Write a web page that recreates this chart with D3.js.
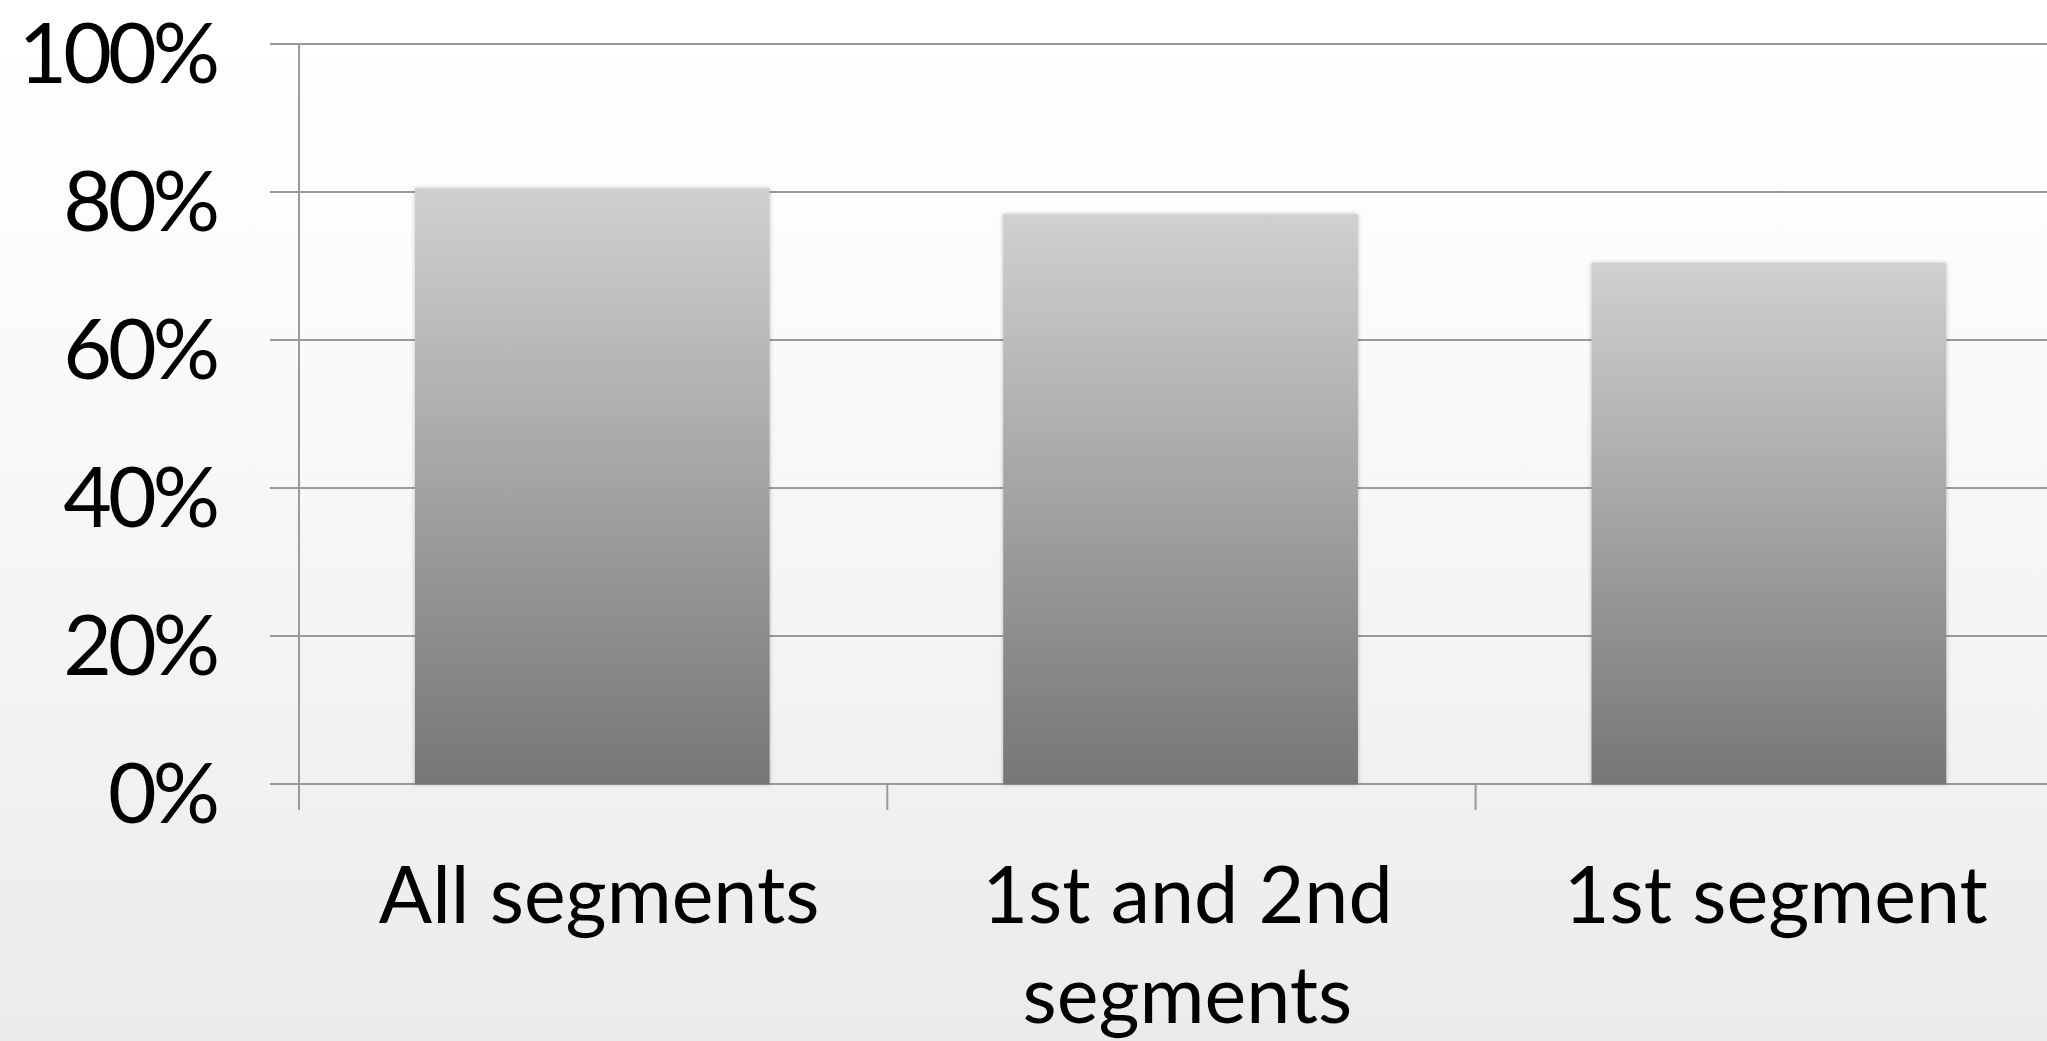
<!DOCTYPE html>
<html>
<head>
<meta charset="utf-8">
<title>Segments chart</title>
<script src="https://d3js.org/d3.v7.min.js"></script>
<style>
html, body { margin: 0; padding: 0; overflow: hidden; }
text { font-family: Lato, "Open Sans", sans-serif; fill: #000; }
</style>
</head>
<body>
<script>
// data
var categories = ["All segments", "1st and 2nd segments", "1st segment"];
var labelLines = [["All segments"], ["1st and 2nd", "segments"], ["1st segment"]];
var values = [0.805, 0.770, 0.704];
var yTicks = [0, 0.2, 0.4, 0.6, 0.8, 1];

var w = 2047, h = 1041;

var svg = d3.select("body").append("svg")
    .attr("width", w)
    .attr("height", h);

var defs = svg.append("defs");

var bg = defs.append("linearGradient").attr("id", "bg")
    .attr("x1", 0).attr("y1", 0).attr("x2", 0).attr("y2", 1);
bg.append("stop").attr("offset", "0%").attr("stop-color", "#ffffff");
bg.append("stop").attr("offset", "30%").attr("stop-color", "#fbfbfb");
bg.append("stop").attr("offset", "100%").attr("stop-color", "#ebebee");

var barGrad = defs.append("linearGradient").attr("id", "bar")
    .attr("x1", 0).attr("y1", 0).attr("x2", 0).attr("y2", 1);
barGrad.append("stop").attr("offset", "0%").attr("stop-color", "#d0d0d0");
barGrad.append("stop").attr("offset", "100%").attr("stop-color", "#767676");

var shadow = defs.append("filter").attr("id", "shadow")
    .attr("x", "-5%").attr("y", "-5%").attr("width", "110%").attr("height", "110%");
shadow.append("feDropShadow")
    .attr("dx", 0).attr("dy", 0).attr("stdDeviation", 2)
    .attr("flood-color", "#000").attr("flood-opacity", 0.25);

svg.append("rect").attr("width", w).attr("height", h).attr("fill", "url(#bg)");

var x = d3.scaleBand()
    .domain(categories)
    .range([299, 299 + 3 * 588.3])
    .paddingInner(0).paddingOuter(0);

var y = d3.scaleLinear()
    .domain([0, 1])
    .range([784, 44]);

// horizontal grid lines
svg.append("g")
  .selectAll("line")
  .data(yTicks)
  .enter().append("line")
    .attr("x1", 270)
    .attr("x2", w)
    .attr("y1", function(d){ return y(d); })
    .attr("y2", function(d){ return y(d); })
    .attr("stroke", "#9a9a9a")
    .attr("stroke-width", 2);

// vertical axis line
svg.append("line")
    .attr("x1", x(categories[0])).attr("x2", x(categories[0]))
    .attr("y1", y(1)).attr("y2", y(0) + 26)
    .attr("stroke", "#9a9a9a").attr("stroke-width", 2);

// category tick marks
svg.append("g")
  .selectAll("line")
  .data(categories.slice(1))
  .enter().append("line")
    .attr("x1", function(d){ return x(d); })
    .attr("x2", function(d){ return x(d); })
    .attr("y1", y(0))
    .attr("y2", y(0) + 26)
    .attr("stroke", "#9a9a9a").attr("stroke-width", 2);

// bars
svg.append("g")
  .selectAll("rect")
  .data(values)
  .enter().append("rect")
    .attr("x", function(d, i){ return x(categories[i]) + x.bandwidth() * 0.197; })
    .attr("width", x.bandwidth() * 0.603)
    .attr("y", function(d){ return y(d); })
    .attr("height", function(d){ return y(0) - y(d); })
    .attr("fill", "url(#bar)")
    .attr("filter", "url(#shadow)");

// y labels
svg.append("g")
  .selectAll("text")
  .data(yTicks)
  .enter().append("text")
    .attr("x", 216)
    .attr("y", function(d){ return y(d) + 9; })
    .attr("dy", "0.36em")
    .attr("text-anchor", "end")
    .style("font-size", "84px")
    .style("letter-spacing", "-4px")
    .text(d3.format(".0%"));

// x labels
var xl = svg.append("g")
  .selectAll("text")
  .data(categories)
  .enter().append("text")
    .attr("x", function(d){ return x(d) + x.bandwidth() / 2 + 6; })
    .attr("y", 923)
    .attr("text-anchor", "middle")
    .style("font-size", "79px");

xl.selectAll("tspan")
  .data(function(d, i){ return labelLines[i]; })
  .enter().append("tspan")
    .attr("x", function(){ var p = d3.select(this.parentNode).datum(); return x(p) + x.bandwidth() / 2 + 6; })
    .attr("dy", function(d, i){ return i === 0 ? 0 : 100; })
    .text(function(d){ return d; });
</script>
</body>
</html>
